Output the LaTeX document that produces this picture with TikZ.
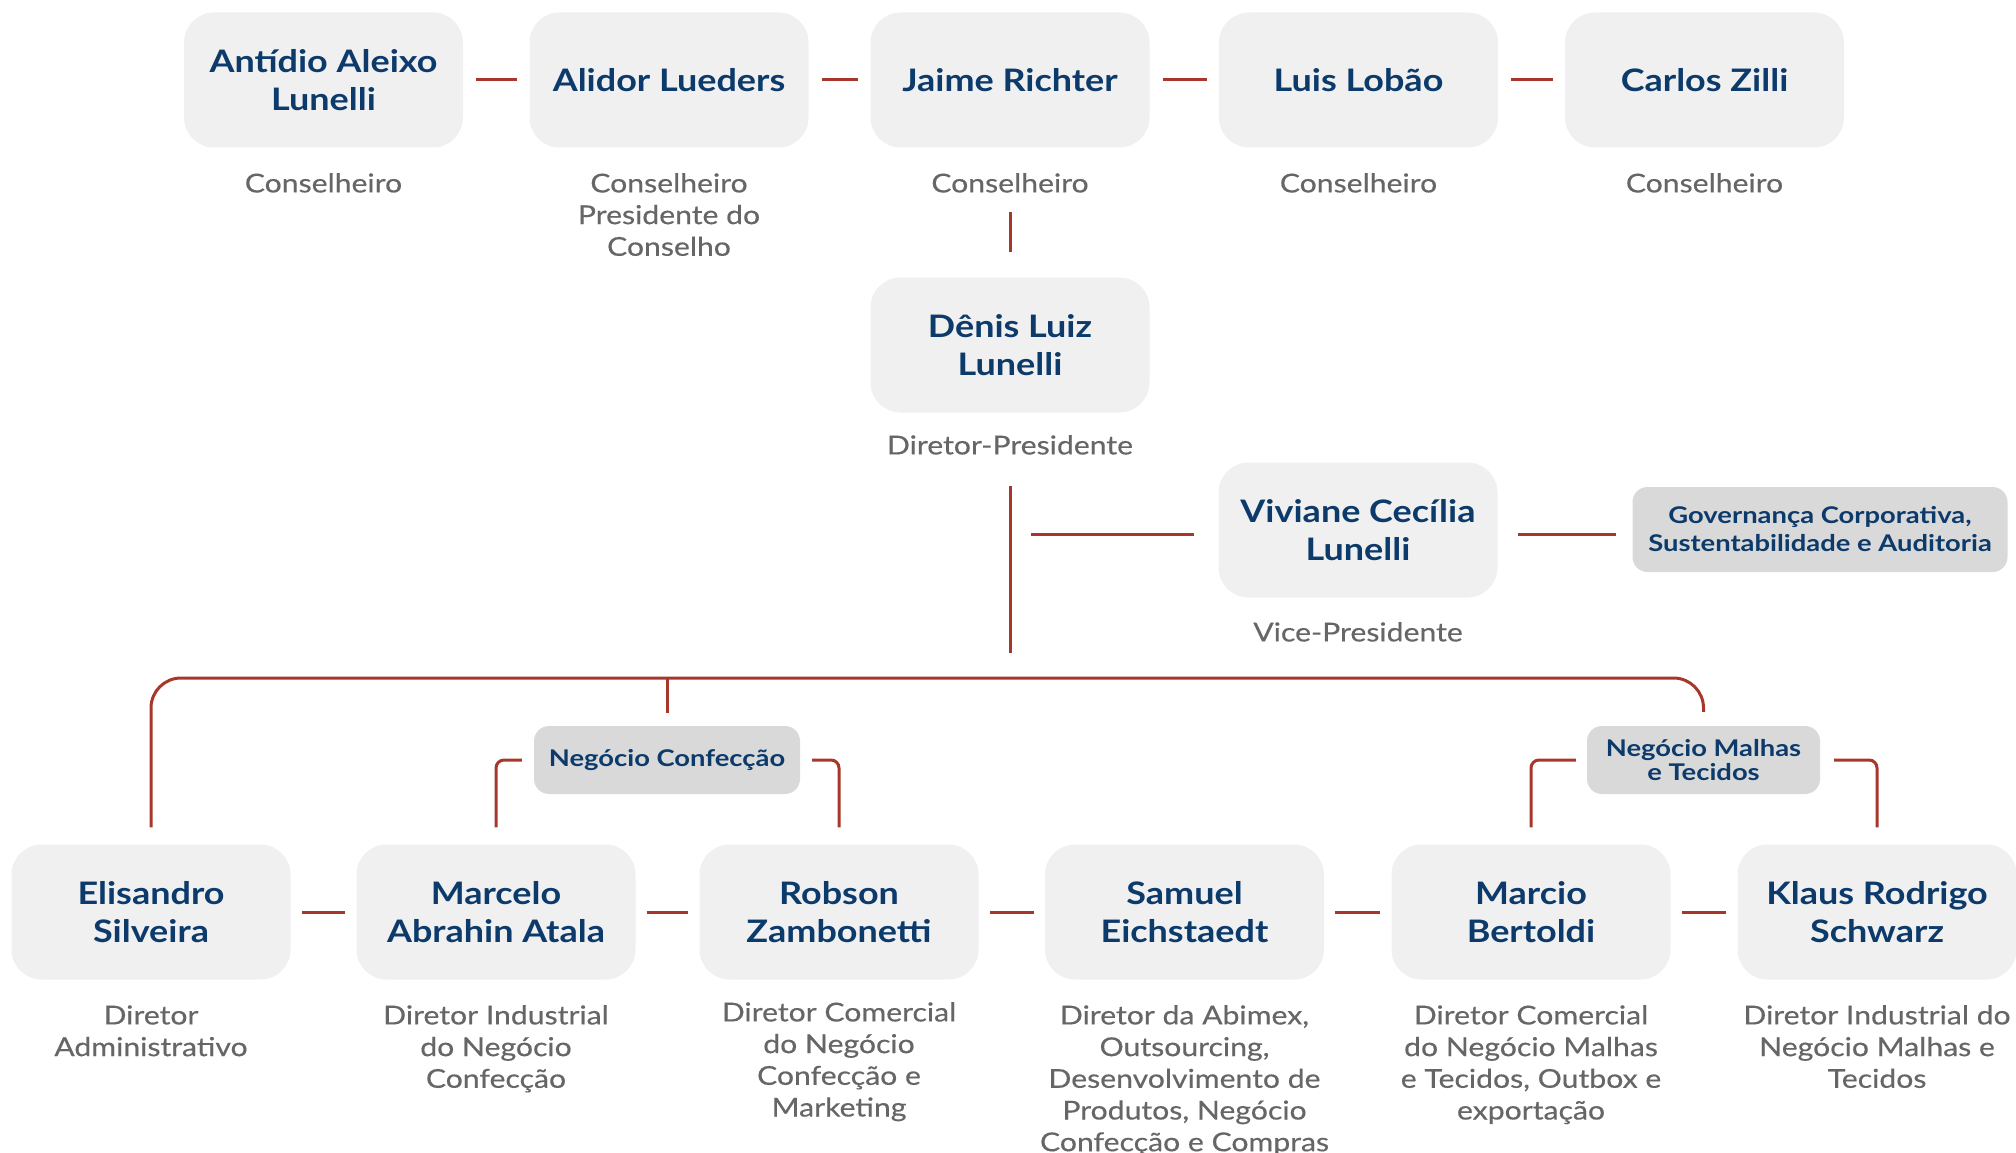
\documentclass[tikz,border=0pt]{standalone}
\usepackage{fontspec}
\setmainfont{Lato}[FakeStretch=1.06]
\newfontfamily\nameFam{Lato}[FakeStretch=1.16]
\newfontfamily\roleFam{Lato}[FakeStretch=1.16, FakeBold=0.4]
\newfontfamily\groupFam{Lato}[FakeStretch=1.19]
\definecolor{navy}{HTML}{0B3A6B}
\definecolor{rolegray}{HTML}{666666}
\definecolor{boxfill}{HTML}{F0F0F0}
\definecolor{labelfill}{HTML}{D9D9D9}
\definecolor{linkred}{HTML}{A8372B}
\newcommand\orgNameFont{\nameFam\fontsize{31}{38}\selectfont\bfseries}
\newcommand\orgRoleFont{\roleFam\fontsize{26}{31.7}\selectfont}
\newcommand\orgGroupFont{\groupFam\fontsize{23}{28}\selectfont\bfseries}
\tikzset{
  person/.style={rectangle, rounded corners=30pt, fill=boxfill, minimum width=279pt,
    minimum height=135pt, align=center, text=navy, font=\orgNameFont, inner sep=0pt},
  role/.style={align=center, text=rolegray, font=\orgRoleFont, anchor=north, inner sep=0pt},
  grouplabel/.style={rectangle, rounded corners=15pt, fill=labelfill, text=navy,
    font=\orgGroupFont, align=center, inner sep=0pt, minimum height=68pt},
  link/.style={draw=linkred, line width=3pt},
}
\begin{document}
\begin{tikzpicture}[x=1pt,y=-1pt]
\useasboundingbox (0,0) rectangle (2016,1153);
% top row
\node[person] (antidio) at (323.5,80) {Antídio Aleixo\\Lunelli};
\node[person] (alidor) at (669,80) {Alidor Lueders};
\node[person] (jaime) at (1010,80) {Jaime Richter};
\node[person] (luis) at (1358.5,80) {Luis Lobão};
\node[person] (carlos) at (1704.5,80) {Carlos Zilli};
\node[role] (antidio-r) at (323.5,170) {\strut Conselheiro};
\node[role] (alidor-r) at (669,170) {\strut Conselheiro\\Presidente do\\Conselho};
\node[role] (jaime-r) at (1010,170) {\strut Conselheiro};
\node[role] (luis-r) at (1358.5,170) {\strut Conselheiro};
\node[role] (carlos-r) at (1704.5,170) {\strut Conselheiro};
\draw[link, shorten <=13pt, shorten >=12pt] (antidio) -- (alidor);
\draw[link, shorten <=13pt, shorten >=12pt] (alidor) -- (jaime);
\draw[link, shorten <=13pt, shorten >=12pt] (jaime) -- (luis);
\draw[link, shorten <=13pt, shorten >=12pt] (luis) -- (carlos);
% president
\node[person] (denis) at (1010,345) {Dênis Luiz\\Lunelli};
\node[role] (denis-r) at (1010,432) {\strut Diretor-Presidente};
\draw[link, shorten <=10pt, shorten >=25pt] (jaime-r) -- (denis);
% vice president
\node[person] (viviane) at (1358,530) {Viviane Cecília\\Lunelli};
\node[role] (viviane-r) at (1358,619) {\strut Vice-Presidente};
\node[grouplabel, minimum width=375pt, minimum height=85pt] (gov) at (1820,529.5) {Governança Corporativa,\\Sustentabilidade e Auditoria};
\coordinate (vpstem) at (1010,653);
\coordinate (vpbranch) at (1031,534);
\draw[link, shorten <=22pt] (denis-r.south) -- (vpstem);
\draw[link, shorten >=24pt] (vpbranch) -- (viviane.west |- vpbranch);
\draw[link, shorten <=20pt, shorten >=16pt] (viviane.east |- vpbranch) -- (gov.west |- vpbranch);
% business groups
\node[grouplabel, minimum width=266pt] (confeccao) at (667,760) {Negócio Confecção};
\node[grouplabel, minimum width=233pt, font=\groupFam\fontsize{23}{24}\selectfont\bfseries] (malhas) at (1703.5,760) {Negócio Malhas\\e Tecidos};
% bottom row
\node[person] (elisandro) at (151,912) {Elisandro\\Silveira};
\node[person] (marcelo) at (496,912) {Marcelo\\Abrahin Atala};
\node[person] (robson) at (839,912) {Robson\\Zambonetti};
\node[person] (samuel) at (1184.5,912) {Samuel\\Eichstaedt};
\node[person] (marcio) at (1531,912) {Marcio\\Bertoldi};
\node[person] (klaus) at (1877,912) {Klaus Rodrigo\\Schwarz};
\node[role] (elisandro-r) at (151,1002) {\strut Diretor\\Administrativo};
\node[role] (marcelo-r) at (496,1002) {\strut Diretor Industrial\\do Negócio\\Confecção};
\node[role] (robson-r) at (839,999) {\strut Diretor Comercial\\do Negócio\\Confecção e\\Marketing};
\node[role] (samuel-r) at (1184.5,1002) {\strut Diretor da Abimex,\\Outsourcing,\\Desenvolvimento de\\Produtos, Negócio\\Confecção e Compras};
\node[role] (marcio-r) at (1531,1002) {\strut Diretor Comercial\\do Negócio Malhas\\e Tecidos, Outbox e\\exportação};
\node[role] (klaus-r) at (1877,1002) {\strut Diretor Industrial do\\Negócio Malhas e\\Tecidos};
\draw[link, shorten <=11pt, shorten >=11pt] (elisandro) -- (marcelo);
\draw[link, shorten <=11pt, shorten >=11pt] (marcelo) -- (robson);
\draw[link, shorten <=11pt, shorten >=11pt] (robson) -- (samuel);
\draw[link, shorten <=11pt, shorten >=11pt] (samuel) -- (marcio);
\draw[link, shorten <=11pt, shorten >=11pt] (marcio) -- (klaus);
% bus
\coordinate (bus) at (1010,678);
\draw[link, rounded corners=30pt] ([yshift=17pt]elisandro.north) |- (bus -| malhas.north) -- ([yshift=14pt]malhas.north);
\draw[link] (confeccao.north |- bus) -- ([yshift=13pt]confeccao.north);
\draw[link, rounded corners=8pt] ([xshift=-12pt]confeccao.west) -| ([yshift=17pt]marcelo.north);
\draw[link, rounded corners=8pt] ([xshift=12pt]confeccao.east) -| ([yshift=17pt]robson.north);
\draw[link, rounded corners=8pt] ([xshift=-11pt]malhas.west) -| ([yshift=17pt]marcio.north);
\draw[link, rounded corners=8pt] ([xshift=14pt]malhas.east) -| ([yshift=17pt]klaus.north);
\end{tikzpicture}
\end{document}
